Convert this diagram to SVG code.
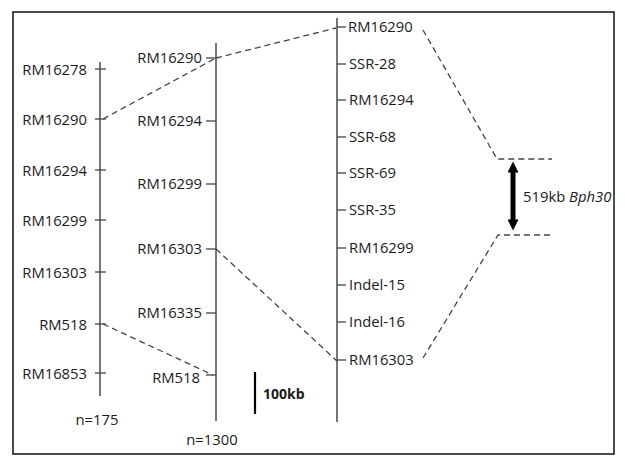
<svg xmlns="http://www.w3.org/2000/svg" width="625" height="466" viewBox="0 0 625 466">
<style>
text{font-family:"Open Sans","Liberation Sans",sans-serif;font-size:14.8px;fill:#1a1a1a}
.l{text-anchor:end}
.chr{stroke:#555;stroke-width:1.6;fill:none}
.tk{stroke:#444;stroke-width:1.3}
.dash{stroke:#444;stroke-width:1.3;fill:none;stroke-dasharray:6 4}
</style>
<defs>
<marker id="ah" viewBox="0 0 10 10" refX="5" refY="5" markerWidth="2.4" markerHeight="2.2" orient="auto-start-reverse" markerUnits="strokeWidth"><path d="M0,0 L10,5 L0,10 z" fill="#000"/></marker>
</defs>
<rect x="0" y="0" width="625" height="466" fill="#fff"/>
<rect x="13" y="12" width="601" height="442" fill="none" stroke="#111" stroke-width="1.5"/>
<g id="chr-left">
<line class="chr" x1="100" y1="62" x2="100" y2="396"/>
<g class="tk">
<line x1="95" y1="69" x2="106" y2="69"/><line x1="95" y1="119" x2="106" y2="119"/><line x1="95" y1="170" x2="106" y2="170"/><line x1="95" y1="220" x2="106" y2="220"/><line x1="95" y1="272" x2="106" y2="272"/><line x1="95" y1="324" x2="106" y2="324"/><line x1="95" y1="373" x2="106" y2="373"/>
</g>
<text class="l" x="87" y="75">RM16278</text>
<text class="l" x="87" y="125">RM16290</text>
<text class="l" x="87" y="176">RM16294</text>
<text class="l" x="87" y="226">RM16299</text>
<text class="l" x="87" y="278">RM16303</text>
<text class="l" x="87" y="330">RM518</text>
<text class="l" x="87" y="379">RM16853</text>
<text x="97" y="425" text-anchor="middle">n=175</text>
</g>
<g id="chr-middle">
<line class="chr" x1="216" y1="43" x2="216" y2="421"/>
<g class="tk">
<line x1="206" y1="58" x2="216" y2="58"/><line x1="206" y1="121" x2="216" y2="121"/><line x1="206" y1="184" x2="216" y2="184"/><line x1="206" y1="249" x2="216" y2="249"/><line x1="206" y1="313" x2="216" y2="313"/><line x1="206" y1="375" x2="216" y2="375"/>
</g>
<text class="l" x="202" y="63">RM16290</text>
<text class="l" x="202" y="126">RM16294</text>
<text class="l" x="202" y="189">RM16299</text>
<text class="l" x="202" y="254">RM16303</text>
<text class="l" x="202" y="318">RM16335</text>
<text class="l" x="200" y="383">RM518</text>
<text x="212" y="445" text-anchor="middle">n=1300</text>
</g>
<g id="chr-right">
<line class="chr" x1="337" y1="18" x2="337" y2="422"/>
<g class="tk">
<line x1="337" y1="27" x2="346" y2="27"/><line x1="337" y1="64" x2="346" y2="64"/><line x1="337" y1="100" x2="346" y2="100"/><line x1="337" y1="137" x2="346" y2="137"/><line x1="337" y1="173" x2="346" y2="173"/><line x1="337" y1="210" x2="346" y2="210"/><line x1="337" y1="248" x2="346" y2="248"/><line x1="337" y1="285" x2="346" y2="285"/><line x1="337" y1="322" x2="346" y2="322"/><line x1="337" y1="360" x2="346" y2="360"/>
</g>
<text x="348" y="32">RM16290</text>
<text x="349" y="69">SSR-28</text>
<text x="349" y="105">RM16294</text>
<text x="349" y="142">SSR-68</text>
<text x="349" y="178">SSR-69</text>
<text x="349" y="215">SSR-35</text>
<text x="349" y="253">RM16299</text>
<text x="349" y="290">Indel-15</text>
<text x="349" y="327">Indel-16</text>
<text x="349" y="365">RM16303</text>
</g>
<g id="scale">
<line x1="255" y1="372" x2="255" y2="414" stroke="#000" stroke-width="2.2"/>
<text x="263" y="399" style="font-weight:bold;font-size:14px">100kb</text>
</g>
<g id="gene">
<line x1="513" y1="167" x2="513" y2="225" stroke="#000" stroke-width="5" marker-start="url(#ah)" marker-end="url(#ah)"/>
<text x="523" y="202">519kb <tspan style="font-style:italic">Bph30</tspan></text>
</g>
<g id="connectors">
<path class="dash" d="M103,119 L216,58"/>
<path class="dash" d="M216,58 L336,28"/>
<path class="dash" d="M216,249 L337,361"/>
<path class="dash" d="M103,324 L213,375"/>
<path class="dash" d="M423,30 L497,159 L552,159"/>
<path class="dash" d="M423,358 L498,235 L552,235"/>
</g>
</svg>
